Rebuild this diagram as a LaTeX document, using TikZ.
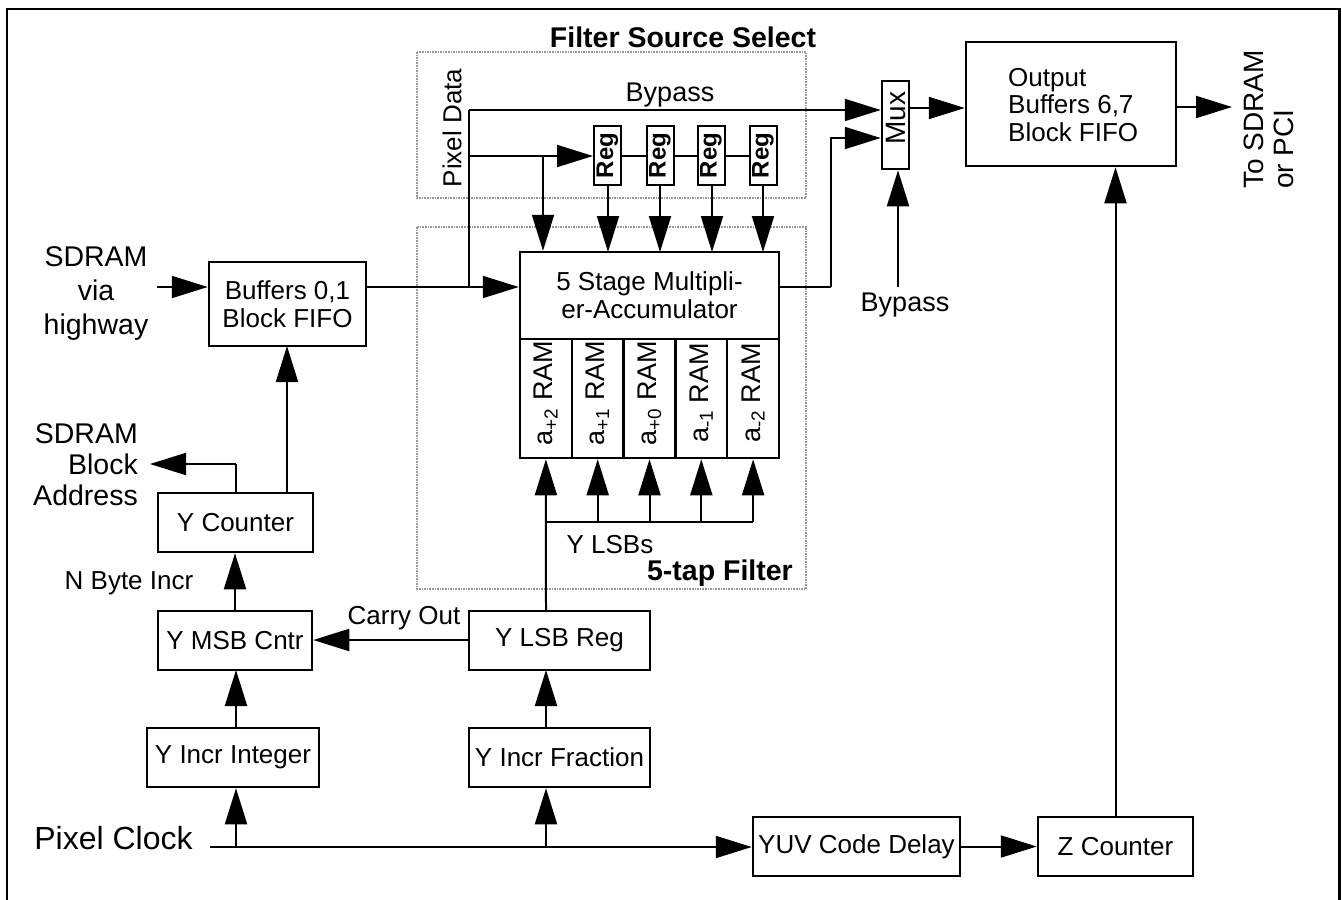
\documentclass[tikz,border=0pt]{standalone}
\usepackage{fontspec}
\setmainfont{Liberation Sans}
\usetikzlibrary{arrows.meta,calc}
\newcommand\fsz[2]{\fontsize{#1}{#2}\selectfont}
\begin{document}
\begin{tikzpicture}[x=1pt,y=-1pt,
 box/.style={draw,line width=2.5pt,inner sep=0pt,align=center,font=\fsz{26}{28}},
 arr/.style={line width=2pt,-{Triangle[length=36pt,width=22pt]}},
 ln/.style={line width=2pt},
 lbl/.style={inner sep=0pt,font=\fsz{26}{28}},
 dotbox/.style={draw=gray!80,densely dotted,line width=1.6pt},
 ]
\useasboundingbox (0,0) rectangle (1342,900);
% frame
\draw[line width=2.5pt] (7,900) -- (7,9) -- (1339.5,9) -- (1339.5,900);

% dotted groups
\draw[dotbox] (417,52) rectangle (806,198);
\draw[dotbox] (417,227) rectangle (806,589);
\node[lbl,font=\bfseries\fsz{28.5}{30}] (fsst) at (683,37) {Filter Source Select};
\node[lbl,font=\bfseries\fsz{28.5}{30},anchor=east] (ftapt) at (793,573) {5-tap Filter};

% boxes
\node[box,minimum width=157pt,minimum height=84pt] (buf) at (287.5,304) {Buffers 0,1\\Block FIFO};
\node[box,minimum width=155pt,minimum height=59pt] (ycnt) at (235.5,522.5) {Y Counter};
\node[box,minimum width=154pt,minimum height=59pt] (ymsb) at (235,640.5) {Y MSB Cntr};
\node[box,minimum width=181pt,minimum height=59pt] (ylsb) at (559.5,640.5) {Y LSB Reg};
\node[box,minimum width=172pt,minimum height=59pt] (yint) at (233,757.5) {Y Incr Integer};
\node[box,minimum width=181pt,minimum height=59pt] (yfrac) at (559.5,757.5) {Y Incr Fraction};
\node[box,minimum width=207pt,minimum height=59pt] (yuv) at (856.5,846.5) {YUV Code Delay};
\node[box,minimum width=155pt,minimum height=59pt] (zcnt) at (1115.5,846.5) {Z Counter};
\node[box,minimum width=210pt,minimum height=124pt] (outb) at (1071,104) {};
\node[lbl,align=left,anchor=west,font=\fsz{26}{27.5}] (outt) at (1008,105) {Output\\Buffers 6,7\\Block FIFO};
\node[box,minimum width=27pt,minimum height=88pt] (mux) at (895.5,125) {};
\node[lbl,rotate=90,font=\fsz{28}{30}] (muxt) at (896,118) {Mux};

% registers
\foreach \i/\x in {1/607.5,2/660,3/711,4/763}{
  \node[box,line width=2pt,minimum width=27pt,minimum height=59pt] (r\i) at (\x,155.5) {};
  \node[lbl,rotate=90,font=\bfseries\fsz{24}{26}] (r\i t) at (\x,155.5) {Reg};
}

% MAC and RAMs
\node[box,minimum width=259pt,minimum height=87pt] (mac) at (649.5,295.5) {5 Stage Multipli-\\er-Accumulator};
\foreach \i/\x/\s in {1/545.9/{+2},2/597.7/{+1},3/649.5/{+0},4/701.3/{-1},5/753.1/{-2}}{
  \node[box,minimum width=51.8pt,minimum height=119pt] (ram\i) at (\x,398.5) {};
  \node[lbl,rotate=90,font=\fsz{27}{29}] (ram\i t) at (\x,393) {a\textsubscript{\s} RAM};
}

% labels
\node[lbl,align=center,font=\fsz{28.5}{34}] (sdin) at (96,294) {SDRAM\\via\\highway};
\node[lbl,align=right,anchor=east,font=\fsz{28.5}{31}] (sdba) at (138,465) {SDRAM\\Block\\Address};
\node[lbl] (nbyte) at (129,583) {N Byte Incr};
\node[lbl] (carry) at (404,618) {Carry Out};
\node[lbl,font=\fsz{32}{34}] (pclk) at (113.5,838) {Pixel Clock};
\node[lbl,font=\fsz{27}{29}] (bypt) at (670,95) {Bypass};
\node[lbl,font=\fsz{27}{29}] (bypb) at (905,305) {Bypass};
\node[lbl,rotate=90] (pdat) at (452,128) {Pixel Data};
\node[lbl] (ylsbs) at (610,545) {Y LSBs};
\node[lbl,rotate=90,align=left,anchor=north west,font=\fsz{28}{30}] (tosd) at (1244,189) {To SDRAM\\or PCI};

% coordinates
\coordinate (sdinc) at (157,287);
\coordinate (j1) at (469,287);
\coordinate (bp) at (469,110);
\coordinate (pd) at (469,156);
\coordinate (tap) at (543,156);
\coordinate (macout) at (831,287);
\coordinate (bypc) at (898,287);
\coordinate (toout) at (1232,107);
\coordinate (sba) at (150,464);
\coordinate (pc) at (210,847);
\coordinate (pc1) at (236,847);
\coordinate (pc2) at (546,847);
\coordinate (lsbs) at (546,522);

% connectors: input side
\draw[arr] (sdinc) -- (buf.west |- sdinc);
\draw[ln] (buf.east |- j1) -- (j1);
\draw[arr] (j1) -- (mac.west |- j1);
\draw[ln] (j1) -- (bp);
\draw[arr] (bp) -- (mux.west |- bp);
\draw[arr] (pd) -- (r1.west |- pd);
\draw[arr] (tap) -- (tap |- mac.north);
\draw[ln] (r1.east) -- (r2.west);
\draw[ln] (r2.east) -- (r3.west);
\draw[ln] (r3.east) -- (r4.west);
\foreach \i/\x in {1/608,2/660,3/712,4/763}{
  \draw[arr] (\x,185) -- (\x,252);
}
% MAC to mux
\draw[ln] (mac.east |- macout) -- (macout);
\draw[arr] (macout) -- (831,138) -- (mux.west |- 0,138);
\draw[arr] (bypc) -- (bypc |- mux.south);
\draw[arr] (mux.east |- 0,108) -- (outb.west |- 0,108);
\draw[arr] (outb.east |- toout) -- (toout);
\draw[arr] (zcnt.north) -- (zcnt.north |- outb.south);

% counters
\draw[arr] (287,493) -- (287,346);
\draw[ln] (236,493) -- (236,464);
\draw[arr] (236,464) -- (sba);
\draw[arr] (ymsb.north) -- (ymsb.north |- ycnt.south);
\draw[arr] (ylsb.west |- 0,640) -- (ymsb.east |- 0,640);
\draw[arr] (236,728) -- (236,670);
\draw[arr] (546,728) -- (546,670);
\draw[arr] (546,611) -- (ram1.south);
\draw[ln] (lsbs) -- (ram5.south |- lsbs);
\foreach \i in {2,3,4,5}{
  \draw[arr] (ram\i.south |- lsbs) -- (ram\i.south);
}
% pixel clock
\draw[arr] (pc) -- (yuv.west |- pc);
\draw[arr] (pc1) -- (pc1 |- yint.south);
\draw[arr] (pc2) -- (pc2 |- yfrac.south);
\draw[arr] (yuv.east) -- (zcnt.west);
\end{tikzpicture}
\end{document}
